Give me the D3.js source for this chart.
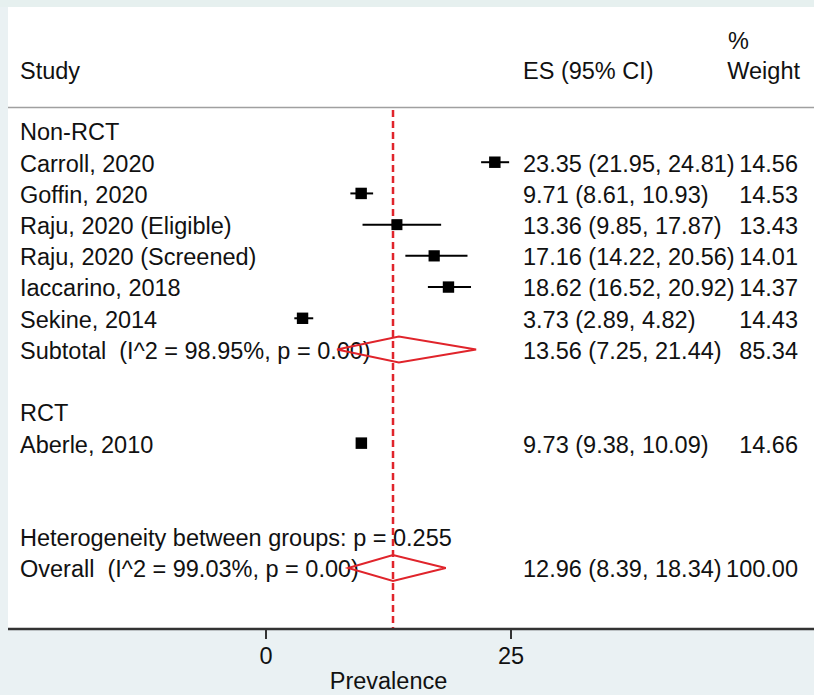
<!DOCTYPE html>
<html>
<head>
<meta charset="utf-8">
<script src="https://cdn.jsdelivr.net/npm/d3@7"></script>
<style>
  body { margin: 0; background: #eaf1f3; }
  svg { display: block; font-family: "Liberation Sans", Arial, sans-serif; }
  text { fill: #111; white-space: pre; }
</style>
</head>
<body>
<svg width="814" height="695"></svg>
<script>
// study rows (row index in the table)
const studies = ['Carroll, 2020', 'Goffin, 2020', 'Raju, 2020 (Eligible)', 'Raju, 2020 (Screened)', 'Iaccarino, 2018', 'Sekine, 2014', 'Aberle, 2010']
const studyRows = [1, 2, 3, 4, 5, 6, 10]
const es = [23.35, 9.71, 13.36, 17.16, 18.62, 3.73, 9.73]
const lo = [21.95, 8.61, 9.85, 14.22, 16.52, 2.89, 9.38]
const hi = [24.81, 10.93, 17.87, 20.56, 20.92, 4.82, 10.09]
const weights = [14.56, 14.53, 13.43, 14.01, 14.37, 14.43, 14.66]

// pooled estimates
const pooledLabels = ['Subtotal  (I^2 = 98.95%, p = 0.00)', 'Overall  (I^2 = 99.03%, p = 0.00)']
const pooledRows = [7, 14]
const pooledEs = [13.56, 12.96]
const pooledLo = [7.25, 8.39]
const pooledHi = [21.44, 18.34]
const pooledWeights = [85.34, 100.00]

const groupLabels = ['Non-RCT', 'RCT']
const groupRows = [0, 9]
const hetLabel = 'Heterogeneity between groups: p = 0.255'
const hetRow = 13

const xTicks = [0, 25]

const svg = d3.select('svg')
const width = +svg.attr('width')
const height = +svg.attr('height')

const x = d3.scaleLinear().domain([0, 25]).range([266, 511])
const y = d3.scaleLinear().domain([0, 14]).range([131, 568])
const axisY = 629
const fs = 23.5
const dy = '0.4em'

const fmt = d3.format('.2f')
const ciText = (e, l, h) => `${fmt(e)} (${fmt(l)}, ${fmt(h)})`

// backgrounds
svg.append('rect').attr('x', 0).attr('y', 0).attr('width', width).attr('height', 7).attr('fill', '#e6f0ef')
svg.append('rect').attr('x', 8).attr('y', 7).attr('width', width - 8).attr('height', axisY - 7).attr('fill', '#fff')

// header
const header = svg.append('g').attr('font-size', fs)
header.append('text').attr('x', 20).attr('y', 70).attr('dy', dy).text('Study')
header.append('text').attr('x', 523).attr('y', 70).attr('dy', dy).text('ES (95% CI)')
header.append('text').attr('x', 728).attr('y', 40).attr('dy', dy).text('%')
header.append('text').attr('x', 800).attr('y', 70).attr('dy', dy).attr('text-anchor', 'end').text('Weight')

svg.append('line')
   .attr('x1', 8).attr('x2', width).attr('y1', 107.5).attr('y2', 107.5)
   .attr('stroke', '#a0a0a0').attr('stroke-width', 1.5)

// reference line at overall estimate
svg.append('line')
   .attr('x1', x(pooledEs[1])).attr('x2', x(pooledEs[1]))
   .attr('y1', 110).attr('y2', axisY)
   .attr('stroke', '#e0242b').attr('stroke-width', 2.5)
   .attr('stroke-dasharray', '7,4')

const rows = svg.append('g').attr('font-size', fs)

rows.selectAll('.grp')
    .data(groupLabels)
    .enter().append('text')
    .attr('x', 20).attr('y', (d, i) => y(groupRows[i])).attr('dy', dy)
    .text(d => d)

rows.selectAll('.study')
    .data(studies)
    .enter().append('text')
    .attr('x', 20).attr('y', (d, i) => y(studyRows[i])).attr('dy', dy)
    .text(d => d)

rows.selectAll('.pooled')
    .data(pooledLabels)
    .enter().append('text')
    .attr('x', 20).attr('y', (d, i) => y(pooledRows[i])).attr('dy', dy)
    .text(d => d)

rows.append('text').attr('x', 20).attr('y', y(hetRow)).attr('dy', dy).text(hetLabel)

// CI + weight columns
rows.selectAll('.ci')
    .data(es)
    .enter().append('text')
    .attr('x', 523).attr('y', (d, i) => y(studyRows[i])).attr('dy', dy)
    .text((d, i) => ciText(d, lo[i], hi[i]))

rows.selectAll('.w')
    .data(weights)
    .enter().append('text')
    .attr('x', 798).attr('y', (d, i) => y(studyRows[i])).attr('dy', dy)
    .attr('text-anchor', 'end')
    .text(d => fmt(d))

rows.selectAll('.pci')
    .data(pooledEs)
    .enter().append('text')
    .attr('x', 523).attr('y', (d, i) => y(pooledRows[i])).attr('dy', dy)
    .text((d, i) => ciText(d, pooledLo[i], pooledHi[i]))

rows.selectAll('.pw')
    .data(pooledWeights)
    .enter().append('text')
    .attr('x', 798).attr('y', (d, i) => y(pooledRows[i])).attr('dy', dy)
    .attr('text-anchor', 'end')
    .text(d => fmt(d))

// study marks
const marks = svg.append('g')
marks.selectAll('line')
     .data(es)
     .enter().append('line')
     .attr('x1', (d, i) => x(lo[i])).attr('x2', (d, i) => x(hi[i]))
     .attr('y1', (d, i) => y(studyRows[i])).attr('y2', (d, i) => y(studyRows[i]))
     .attr('stroke', '#000').attr('stroke-width', 2)

marks.selectAll('rect')
     .data(es)
     .enter().append('rect')
     .attr('width', (d, i) => 3 * Math.sqrt(weights[i]))
     .attr('height', (d, i) => 3 * Math.sqrt(weights[i]))
     .attr('x', (d, i) => x(d) - 1.5 * Math.sqrt(weights[i]))
     .attr('y', (d, i) => y(studyRows[i]) - 1.5 * Math.sqrt(weights[i]))
     .attr('fill', '#000')

// pooled diamonds
svg.selectAll('.diamond')
   .data(pooledEs)
   .enter().append('path')
   .attr('d', (d, i) => {
     const cy = y(pooledRows[i])
     return `M${x(pooledLo[i])},${cy}L${x(d)},${cy - 13}L${x(pooledHi[i])},${cy}L${x(d)},${cy + 13}Z`
   })
   .attr('fill', 'none')
   .attr('stroke', '#e0242b').attr('stroke-width', 2)

// x axis
const axis = svg.append('g').attr('transform', `translate(0,${axisY})`)
axis.append('line').attr('x1', 8).attr('x2', width).attr('y1', 0).attr('y2', 0)
    .attr('stroke', '#333').attr('stroke-width', 2.5)
axis.selectAll('.tick')
    .data(xTicks)
    .enter().append('line')
    .attr('x1', d => x(d)).attr('x2', d => x(d))
    .attr('y1', 0).attr('y2', 10)
    .attr('stroke', '#333').attr('stroke-width', 2)
axis.selectAll('.tl')
    .data(xTicks)
    .enter().append('text')
    .attr('x', d => x(d)).attr('y', 26).attr('dy', dy)
    .attr('text-anchor', 'middle').attr('font-size', fs)
    .text(d => d)
axis.append('text')
    .attr('x', x(12.5)).attr('y', 51).attr('dy', dy)
    .attr('text-anchor', 'middle').attr('font-size', fs)
    .text('Prevalence')
</script>
</body>
</html>
